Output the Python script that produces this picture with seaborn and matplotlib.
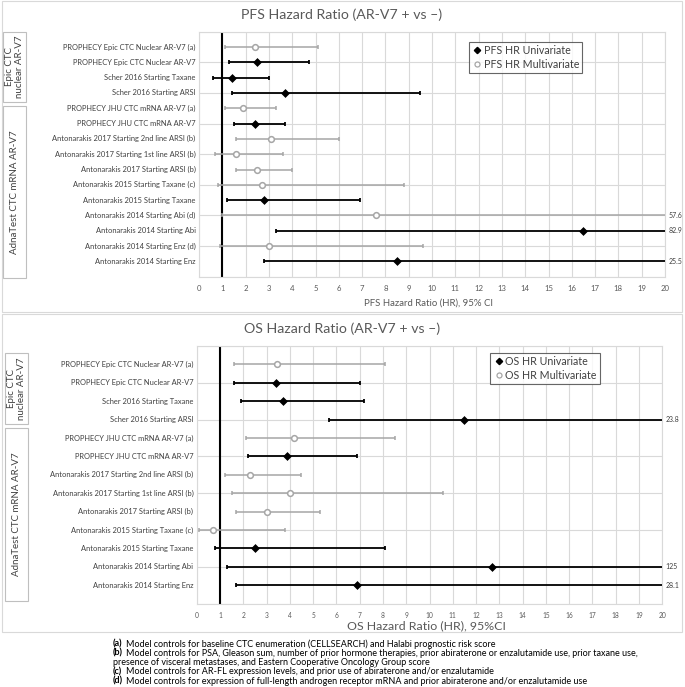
import numpy as np
import pandas as pd
import matplotlib
matplotlib.use("Agg")
import matplotlib.pyplot as plt
from matplotlib.patches import Rectangle
from matplotlib.lines import Line2D
import matplotlib.transforms as mtransforms
import seaborn as sns

# ---------------- data ----------------
pfs_labels = ["PROPHECY Epic CTC Nuclear AR-V7 (a)", "PROPHECY Epic CTC Nuclear AR-V7",
              "Scher 2016 Starting Taxane", "Scher 2016 Starting ARSI",
              "PROPHECY JHU CTC mRNA AR-V7 (a)", "PROPHECY JHU CTC mRNA AR-V7",
              "Antonarakis 2017 Starting 2nd line ARSI (b)", "Antonarakis 2017 Starting 1st line ARSI (b)",
              "Antonarakis 2017 Starting ARSI (b)", "Antonarakis 2015 Starting Taxane (c)",
              "Antonarakis 2015 Starting Taxane", "Antonarakis 2014 Starting Abi (d)",
              "Antonarakis 2014 Starting Abi", "Antonarakis 2014 Starting Enz (d)",
              "Antonarakis 2014 Starting Enz"]
pfs_type = ["Multivariate", "Univariate", "Univariate", "Univariate", "Multivariate", "Univariate",
            "Multivariate", "Multivariate", "Multivariate", "Multivariate", "Univariate",
            "Multivariate", "Univariate", "Multivariate", "Univariate"]
pfs_hr = [2.4, 2.5, 1.4, 3.7, 1.9, 2.4, 3.1, 1.6, 2.5, 2.7, 2.8, 7.6, 16.5, 3.0, 8.5]
pfs_lo = [1.1, 1.3, 0.6, 1.4, 1.1, 1.5, 1.6, 0.7, 1.6, 0.8, 1.2, 1.0, 3.3, 0.9, 2.8]
pfs_hi = [5.1, 4.7, 3.0, 9.5, 3.3, 3.7, 6.0, 3.6, 4.0, 8.8, 6.9, 57.6, 82.9, 9.6, 25.5]

os_labels = ["PROPHECY Epic CTC Nuclear AR-V7 (a)", "PROPHECY Epic CTC Nuclear AR-V7",
             "Scher 2016 Starting Taxane", "Scher 2016 Starting ARSI",
             "PROPHECY JHU CTC mRNA AR-V7 (a)", "PROPHECY JHU CTC mRNA AR-V7",
             "Antonarakis 2017 Starting 2nd line ARSI (b)", "Antonarakis 2017 Starting 1st line ARSI (b)",
             "Antonarakis 2017 Starting ARSI (b)", "Antonarakis 2015 Starting Taxane (c)",
             "Antonarakis 2015 Starting Taxane", "Antonarakis 2014 Starting Abi",
             "Antonarakis 2014 Starting Enz"]
os_type = ["Multivariate", "Univariate", "Univariate", "Univariate", "Multivariate", "Univariate",
           "Multivariate", "Multivariate", "Multivariate", "Multivariate", "Univariate",
           "Univariate", "Univariate"]
os_hr = [3.45, 3.4, 3.7, 11.5, 4.2, 3.9, 2.3, 4.0, 3.0, 0.7, 2.5, 12.7, 6.9]
os_lo = [1.6, 1.6, 1.9, 5.7, 2.1, 2.2, 1.2, 1.5, 1.7, 0.1, 0.8, 1.3, 1.7]
os_hi = [8.1, 7.0, 7.2, 23.8, 8.5, 6.9, 4.5, 10.6, 5.3, 3.8, 8.1, 125, 28.1]

x_ticks = list(range(0, 21))
group_labels = ["Epic CTC\nnuclear AR-V7", "AdnaTest CTC mRNA AR-V7"]

footnotes = [
    ("(a)", "Model controls for baseline CTC enumeration (CELLSEARCH) and Halabi prognostic risk score"),
    ("(b)", "Model controls for PSA, Gleason sum, number of prior hormone therapies, prior abiraterone or enzalutamide use, prior taxane use,"),
    ("", "presence of visceral metastases, and Eastern Cooperative Oncology Group score"),
    ("(c)", "Model controls for AR-FL expression levels, and prior use of abiraterone and/or enzalutamide"),
    ("(d)", "Model controls for expression of full-length androgen receptor mRNA and prior abiraterone and/or enzalutamide use"),
]

# ---------------- style ----------------
sns.set_theme(style="white")
plt.rcParams['font.family'] = ['Lato', 'DejaVu Sans']

W, H = 685, 687
fig = plt.figure(figsize=(W / 100, H / 100), dpi=100)

GRID = "#d9d9d9"
TXT = "#404040"
GRAY = "#a6a6a6"


def fx(px):
    return px / W


def fy(py):
    return 1 - py / H


def frame(x0, y0, x1, y1, color, lw=0.8):
    fig.patches.append(Rectangle((fx(x0), fy(y1)), fx(x1 - x0), (y1 - y0) / H,
                                 transform=fig.transFigure, fill=False,
                                 edgecolor=color, linewidth=lw))


def panel(rect, labels, types, hr, lo, hi, ymax, title, title_y, xlabel, xlabel_y,
          xlabel_size, tick_size, prefix, leg_anchor, boxes):
    x0, y0, x1, y1 = rect
    ax = fig.add_axes([fx(x0), fy(y1), fx(x1 - x0), (y1 - y0) / H])
    df = pd.DataFrame({"label": labels, "kind": types, "hr": hr, "lo": lo, "hi": hi})
    df["pos"] = np.arange(1, len(df) + 1)

    ax.set_xlim(0, 20)
    ax.set_ylim(ymax, 0)
    ax.set_xticks(x_ticks)
    ax.set_yticks(np.arange(0, ymax + 1, 2))
    ax.grid(True, color=GRID, linewidth=0.8)
    ax.set_axisbelow(True)
    for s in ax.spines.values():
        s.set_color(GRID)
        s.set_linewidth(0.8)

    ax.axvline(1, color="black", linewidth=1.5, zorder=2)

    for kind, col, lw in [("Multivariate", GRAY, 1.1), ("Univariate", "black", 1.3)]:
        d = df[df.kind == kind]
        ax.errorbar(d.hr, d.pos, xerr=[d.hr - d.lo, d.hi - d.hr], fmt="none",
                    ecolor=col, elinewidth=lw, capsize=1.6, capthick=lw, zorder=3)

    du = df[df.kind == "Univariate"]
    dm = df[df.kind == "Multivariate"]
    sns.scatterplot(data=du, x="hr", y="pos", marker="D", color="black", s=16,
                    edgecolor="black", linewidth=0.5, ax=ax, zorder=4, legend=False)
    sns.scatterplot(data=dm, x="hr", y="pos", marker="o", color="white", s=17,
                    edgecolor=GRAY, linewidth=1.1, ax=ax, zorder=4, legend=False)

    trans = mtransforms.blended_transform_factory(ax.transAxes, ax.transData)
    for _, r in df.iterrows():
        ax.text(-0.007, r.pos, r.label, transform=trans, ha="right", va="center",
                fontsize=5.4, color=TXT)
        if r.hi > 20:
            ax.text(1.007, r.pos, f"{r.hi:g}", transform=trans, ha="left", va="center",
                    fontsize=5.0, color=TXT)
    ax.set_yticklabels([])
    ax.tick_params(axis="y", length=0)
    ax.tick_params(axis="x", length=0, labelsize=tick_size, labelcolor="#595959", pad=6)
    ax.set_xlabel("")
    ax.set_ylabel("")

    fig.text(fx(342), fy(title_y), title, ha="center", va="center", fontsize=10.2, color="#595959")
    fig.text(fx((x0 + x1) / 2 - 3), fy(xlabel_y), xlabel, ha="center", va="center",
             fontsize=xlabel_size, color="#595959")

    handles = [Line2D([], [], marker="D", color="black", linestyle="none", markersize=3.2),
               Line2D([], [], marker="o", markerfacecolor="white", markeredgecolor=GRAY,
                      linestyle="none", markersize=3.6, markeredgewidth=0.9)]
    leg = ax.legend(handles, [f"{prefix} HR Univariate", f"{prefix} HR Multivariate"],
                    loc="upper left", bbox_to_anchor=leg_anchor, fontsize=7.7,
                    frameon=True, fancybox=False, edgecolor=TXT, handletextpad=0.1,
                    handlelength=1.0, borderpad=0.3, labelspacing=0.3, labelcolor=TXT,
                    borderaxespad=0)
    leg.get_frame().set_linewidth(0.8)

    for (bx0, by0, bx1, by1), txt in zip(boxes, group_labels):
        frame(bx0, by0, bx1, by1, "#bfbfbf", 0.8)
        fig.text(fx((bx0 + bx1) / 2), fy((by0 + by1) / 2), txt, rotation=90,
                 ha="center", va="center", fontsize=7.0, color=TXT, linespacing=1.0)
    return ax


# chart frames
frame(2, 1, 682, 312, "#d9d9d9", 0.8)
frame(2, 314, 682, 632, "#d9d9d9", 0.8)

panel((199, 31.7, 665, 276.7), pfs_labels, pfs_type, pfs_hr, pfs_lo, pfs_hi, 16,
      "PFS Hazard Ratio (AR-V7 + vs \u2013)", 15, "PFS Hazard Ratio (HR), 95% CI", 303,
      6.9, 5.6, "PFS", (0.579, 0.959),
      [(3, 32, 26, 102), (3, 106, 26, 278)])

panel((196.7, 346, 662.3, 603.6), os_labels, os_type, os_hr, os_lo, os_hi, 14,
      "OS Hazard Ratio (AR-V7 + vs \u2013)", 329, "OS Hazard Ratio (HR), 95%CI", 626,
      8.9, 4.8, "OS", (0.630, 0.974),
      [(5, 353, 28, 424), (5, 428, 28, 601)])

# footnotes
ys = [644, 653.3, 662.5, 671.7, 681]
for (b, t), yy in zip(footnotes, ys):
    if b:
        fig.text(fx(113), fy(yy), b, fontsize=6.5, fontweight="bold", color="black",
                 ha="left", va="center")
        fig.text(fx(126), fy(yy), t, fontsize=6.5, color="black",
                 ha="left", va="center")
    else:
        fig.text(fx(113), fy(yy), t, fontsize=6.5, color="black", ha="left", va="center")

fig.savefig("out.png", dpi=100, facecolor="white")
